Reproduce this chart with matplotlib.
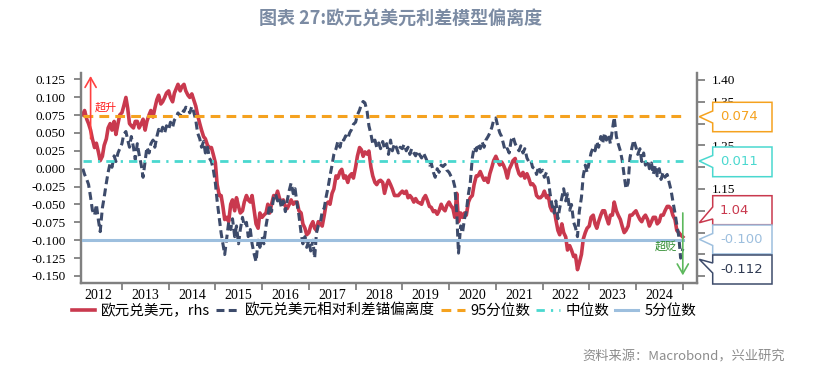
import matplotlib
matplotlib.use('Agg')
import matplotlib.pyplot as plt
import matplotlib.dates as mdates
from matplotlib.patches import Polygon
import pandas as pd

plt.rcParams['font.family'] = ['Noto Sans CJK SC', 'DejaVu Sans']

# 半月度数据（每月1日、15日），2012-03 ~ 2025-01
# 欧元兑美元相对利差锚偏离度（左轴）
dev = [
    # 2012 (3月起)
    0.000, -0.008, -0.015, -0.022, -0.040, -0.058, -0.065, -0.050, -0.072, -0.088,
    -0.055, -0.040, -0.020, -0.005, 0.008, 0.002, 0.018, 0.010, 0.022, 0.028,
    # 2013
    0.035, 0.048, 0.052, 0.040, 0.030, 0.045, 0.030, 0.013, 0.035, 0.020, 0.005, -0.012,
    0.010, 0.030, 0.022, 0.035, 0.040, 0.030, 0.045, 0.055, 0.050, 0.058, 0.050, 0.060,
    # 2014
    0.055, 0.065, 0.058, 0.068, 0.072, 0.078, 0.074, 0.082, 0.080, 0.086, 0.084, 0.078,
    0.087, 0.080, 0.068, 0.050, 0.042, 0.030, 0.038, 0.022, 0.030, 0.015, 0.010, 0.000,
    # 2015
    -0.020, -0.045, -0.070, -0.090, -0.105, -0.120, -0.095, -0.075, -0.085, -0.070, -0.095, -0.080,
    -0.105, -0.085, -0.068, -0.080, -0.075, -0.095, -0.085, -0.105, -0.120, -0.130, -0.100, -0.110,
    # 2016
    -0.095, -0.105, -0.080, -0.065, -0.050, -0.060, -0.040, -0.035, -0.045, -0.040, -0.055, -0.045,
    -0.060, -0.045, -0.030, -0.020, -0.035, -0.028, -0.050, -0.065, -0.090, -0.105, -0.095, -0.110,
    # 2017
    -0.100, -0.115, -0.100, -0.125, -0.090, -0.080, -0.075, -0.060, -0.055, -0.040, -0.025, -0.010,
    0.005, 0.020, 0.028, 0.038, 0.030, 0.042, 0.040, 0.046, 0.042, 0.050, 0.055, 0.062,
    # 2018
    0.065, 0.075, 0.082, 0.090, 0.094, 0.092, 0.080, 0.060, 0.048, 0.035, 0.040, 0.030,
    0.036, 0.028, 0.038, 0.028, 0.035, 0.020, 0.040, 0.025, 0.035, 0.030, 0.022, 0.030,
    # 2019
    0.028, 0.034, 0.025, 0.030, 0.020, 0.028, 0.022, 0.018, 0.025, 0.020, 0.015, 0.022,
    0.016, 0.010, 0.005, 0.008, -0.005, -0.012, 0.000, -0.005, 0.005, 0.003, 0.006, -0.002,
    # 2020
    -0.005, -0.010, -0.015, -0.025, -0.060, -0.118, -0.080, -0.090, -0.070, -0.060, -0.035, -0.020,
    0.015, 0.030, 0.025, 0.035, 0.028, 0.038, 0.030, 0.040, 0.045, 0.050, 0.058, 0.068,
    # 2021
    0.071, 0.060, 0.050, 0.045, 0.035, 0.025, 0.028, 0.022, 0.040, 0.045, 0.035, 0.030,
    0.025, 0.032, 0.022, 0.028, 0.015, 0.010, 0.012, 0.002, 0.000, -0.008, 0.003, -0.005,
    # 2022
    -0.002, -0.012, -0.005, -0.015, -0.035, -0.050, -0.062, -0.045, -0.070, -0.055, -0.040, -0.028,
    -0.045, -0.035, -0.058, -0.050, -0.075, -0.082, -0.095, -0.060, -0.040, -0.010, 0.005, -0.005,
    # 2023
    0.010, 0.022, 0.030, 0.025, 0.038, 0.030, 0.045, 0.035, 0.050, 0.040, 0.048, 0.035,
    0.055, 0.072, 0.045, 0.035, 0.025, 0.012, -0.010, -0.028, -0.020, 0.015, 0.030, 0.040,
    # 2024
    0.030, 0.020, 0.028, 0.010, 0.022, 0.005, 0.012, 0.000, 0.008, -0.008, 0.005, -0.010,
    0.000, -0.015, -0.005, -0.012, -0.008, -0.018, -0.030, -0.045, -0.062, -0.078, -0.095, -0.125,
    # 2025-01
    -0.112,
]

# 欧元兑美元（右轴）
eurusd = [
    # 2012 (3月起)
    1.320, 1.330, 1.310, 1.300, 1.285, 1.265, 1.245, 1.255, 1.235, 1.215,
    1.225, 1.250, 1.265, 1.290, 1.300, 1.285, 1.305, 1.275, 1.300, 1.320,
    # 2013
    1.325, 1.340, 1.360, 1.335, 1.300, 1.295, 1.290, 1.305, 1.305, 1.290, 1.300, 1.310,
    1.285, 1.305, 1.320, 1.330, 1.315, 1.335, 1.355, 1.365, 1.345, 1.350, 1.360, 1.370,
    # 2014
    1.375, 1.360, 1.350, 1.370, 1.380, 1.390, 1.375, 1.385, 1.390, 1.375, 1.365, 1.360,
    1.368, 1.355, 1.340, 1.320, 1.300, 1.285, 1.270, 1.265, 1.250, 1.245, 1.245, 1.230,
    # 2015
    1.210, 1.160, 1.135, 1.135, 1.110, 1.080, 1.085, 1.075, 1.115, 1.125, 1.100, 1.130,
    1.110, 1.095, 1.100, 1.120, 1.135, 1.125, 1.120, 1.135, 1.100, 1.070, 1.060, 1.095,
    # 2016
    1.085, 1.090, 1.095, 1.115, 1.095, 1.115, 1.135, 1.130, 1.145, 1.130, 1.115, 1.125,
    1.110, 1.105, 1.115, 1.125, 1.115, 1.120, 1.120, 1.100, 1.095, 1.070, 1.060, 1.045,
    # 2017
    1.050, 1.065, 1.075, 1.060, 1.055, 1.075, 1.070, 1.065, 1.090, 1.115, 1.120, 1.115,
    1.140, 1.150, 1.180, 1.175, 1.190, 1.195, 1.175, 1.180, 1.165, 1.180, 1.185, 1.175,
    # 2018
    1.200, 1.225, 1.245, 1.240, 1.225, 1.235, 1.230, 1.237, 1.200, 1.180, 1.165, 1.160,
    1.168, 1.170, 1.165, 1.140, 1.160, 1.170, 1.160, 1.150, 1.135, 1.135, 1.135, 1.140,
    # 2019
    1.145, 1.140, 1.145, 1.130, 1.135, 1.130, 1.120, 1.128, 1.120, 1.118, 1.115, 1.128,
    1.135, 1.125, 1.110, 1.108, 1.098, 1.100, 1.092, 1.100, 1.115, 1.105, 1.100, 1.112,
    # 2020
    1.120, 1.112, 1.105, 1.085, 1.140, 1.075, 1.095, 1.085, 1.095, 1.090, 1.120, 1.130,
    1.135, 1.160, 1.180, 1.180, 1.190, 1.180, 1.170, 1.175, 1.165, 1.185, 1.200, 1.215,
    # 2021
    1.225, 1.215, 1.205, 1.212, 1.205, 1.195, 1.175, 1.195, 1.205, 1.215, 1.220, 1.200,
    1.185, 1.180, 1.188, 1.175, 1.185, 1.175, 1.160, 1.162, 1.155, 1.135, 1.130, 1.130,
    # 2022
    1.135, 1.145, 1.130, 1.135, 1.110, 1.100, 1.105, 1.080, 1.055, 1.045, 1.070, 1.050,
    1.040, 1.010, 1.020, 1.010, 0.995, 0.998, 0.965, 0.980, 1.000, 1.035, 1.050, 1.060,
    # 2023
    1.065, 1.085, 1.090, 1.070, 1.060, 1.075, 1.090, 1.100, 1.100, 1.085, 1.070, 1.090,
    1.090, 1.120, 1.100, 1.090, 1.080, 1.065, 1.050, 1.055, 1.065, 1.090, 1.090, 1.095,
    # 2024
    1.100, 1.090, 1.080, 1.075, 1.085, 1.090, 1.080, 1.065, 1.075, 1.085, 1.085, 1.070,
    1.075, 1.090, 1.090, 1.100, 1.110, 1.110, 1.105, 1.090, 1.080, 1.055, 1.050, 1.045,
    # 2025-01
    1.040,
]

dates = pd.date_range('2012-03-01', periods=len(dev), freq='SMS')
assert len(dev) == len(eurusd), (len(dev), len(eurusd))

p95 = 0.074     # 95分位数
p50 = 0.011     # 中位数
p05 = -0.100    # 5分位数

left_ticks = [0.125, 0.100, 0.075, 0.050, 0.025, 0.000, -0.025, -0.050, -0.075, -0.100, -0.125, -0.150]
right_ticks = [1.40, 1.35, 1.30, 1.25, 1.20, 1.15, 1.10, 1.05, 1.00, 0.95]
# 被右侧数值框盖住的刻度不写标签
right_labels = ['1.40', '1.35', '', '1.25', '', '1.15', '', '', '', '']

# 右侧标签框
callout_text = ['0.074', '0.011', '1.04', '-0.100', '-0.112']

red = '#c9394e'
navy = '#3d4b6b'
orange = '#f5a21f'
cyan = '#4ad8cf'
lblue = '#9dbfde'
spine_gray = '#808080'

W, H = 814, 370
fig = plt.figure(figsize=(W / 100, H / 100), dpi=100)
ax = fig.add_axes([81 / W, 1 - 283 / H, (697 - 81) / W, (283 - 73) / H])
ax2 = ax.twinx()
ax.set_zorder(ax2.get_zorder() + 1)
ax.patch.set_visible(False)

l1, = ax2.plot(dates, eurusd, color=red, lw=2.6, label='欧元兑美元，rhs', zorder=1)
l2, = ax.plot(dates, dev, color=navy, lw=2.2, linestyle=(0, (2.6, 1.4)),
              label='欧元兑美元相对利差锚偏离度', zorder=2)
span = [dates[0], dates[-1]]
l3, = ax.plot(span, [p95, p95], color=orange, lw=2.2, linestyle=(0, (3.2, 2.0)), label='95分位数', zorder=3)
l4, = ax.plot(span, [p50, p50], color=cyan, lw=2.0, linestyle=(0, (3.0, 2.2, 0.8, 2.2)), label='中位数', zorder=3)
l5, = ax.plot(span, [p05, p05], color=lblue, lw=2.2, label='5分位数', zorder=3)

ax.set_xlim(pd.Timestamp('2012-02-16'), pd.Timestamp('2025-04-22'))
ax.set_ylim(-0.1598, 0.1338)
ax2.set_ylim(0.9344, 1.416)

ax.set_yticks(left_ticks)
ax.set_yticklabels([f'{v:.3f}' for v in left_ticks])
ax2.set_yticks(right_ticks)
ax2.set_yticklabels(right_labels)

ax.xaxis.set_major_locator(mdates.YearLocator())
ax.xaxis.set_major_formatter(plt.NullFormatter())
ax.xaxis.set_minor_locator(mdates.MonthLocator(bymonth=7, bymonthday=1))
ax.xaxis.set_minor_formatter(mdates.DateFormatter('%Y'))

for lab in ax.get_yticklabels() + ax2.get_yticklabels():
    lab.set_fontfamily('Liberation Serif')
    lab.set_fontsize(9.5)
ax.tick_params(axis='x', which='major', length=5, width=1.3, color=spine_gray, direction='out')
ax.tick_params(axis='x', which='minor', length=0, pad=4, labelsize=10)
for lab in ax.get_xticklabels(minor=True):
    lab.set_fontfamily('Liberation Serif')
ax.tick_params(axis='y', length=5, width=1.3, color=spine_gray, pad=6)
ax2.tick_params(axis='y', length=6, width=1.3, color=spine_gray, pad=5)

for a in (ax, ax2):
    a.spines['top'].set_visible(False)
    for s in ('left', 'right', 'bottom'):
        a.spines[s].set_color(spine_gray)
        a.spines[s].set_linewidth(1.6)

# 超升 / 超贬 标注
ax.annotate('', xy=(pd.Timestamp('2012-05-01'), 0.1335), xytext=(pd.Timestamp('2012-05-01'), 0.038),
            arrowprops=dict(arrowstyle='->,head_length=0.7,head_width=0.4', color='#ff4040', lw=1.2),
            zorder=5, annotation_clip=False)
ax.text(pd.Timestamp('2012-06-05'), 0.085, '超升', color='#ff2020', fontsize=8, va='center', ha='left', zorder=5)
ax.annotate('', xy=(pd.Timestamp('2025-01-01'), -0.153), xytext=(pd.Timestamp('2025-01-01'), -0.058),
            arrowprops=dict(arrowstyle='->,head_length=0.7,head_width=0.4', color='#5cb85c', lw=1.2),
            zorder=5, annotation_clip=False)
ax.text(pd.Timestamp('2024-11-17'), -0.109, '超贬', color='#2e8b2e', fontsize=8, va='center', ha='right', zorder=5)


# 右侧数值框（像素坐标，左上为原点）
def px(x, y):
    return (x / W, 1 - y / H)


boxes = [
    # (top, bottom, notch_top, notch_bottom, tip_y, edge, text color)
    (102.3, 131.7, 111.0, 123.0, 116.7, orange, orange),
    (147.0, 176.7, 155.5, 167.5, 161.0, cyan, cyan),
    (195.7, 224.7, 207.0, 219.0, 222.7, red, red),
    (225.0, 254.0, 233.5, 245.5, 239.3, lblue, lblue),
    (255.0, 284.0, 263.0, 273.0, 259.3, navy, '#2f3a52'),
]
x0, x1, tip_x = 712.7, 772.0, 699.3
for (top, bot, nt, nb, ty, ec, tc), txt in zip(boxes, callout_text):
    verts = [px(x0, top), px(x1, top), px(x1, bot), px(x0, bot), px(x0, nb), px(tip_x, ty), px(x0, nt)]
    fig.add_artist(Polygon(verts, closed=True, transform=fig.transFigure, facecolor='white',
                           edgecolor=ec, lw=1.1, zorder=10))
    fig.text(720 / W, 1 - (top + bot) / 2 / H, txt, color=tc, fontsize=9.5, family='DejaVu Sans',
             va='center', ha='left', zorder=11)

fig.legend(handles=[l1, l2, l3, l4, l5], loc='center left', bbox_to_anchor=(72 / W, 1 - 310.7 / H),
           ncol=5, frameon=False, fontsize=10.5, handlelength=1.6, handletextpad=0.4,
           columnspacing=0.4, borderpad=0, borderaxespad=0)

fig.text(401 / W, 1 - 19 / H, '图表 27:欧元兑美元利差模型偏离度', ha='center', va='center',
         fontsize=13, fontweight='bold', color='#7b8ba3')
fig.text(785 / W, 1 - 357 / H, '资料来源：Macrobond，兴业研究', ha='right', va='center',
         fontsize=9.5, color='#8c8c8c')

fig.savefig('out.png', dpi=100)
